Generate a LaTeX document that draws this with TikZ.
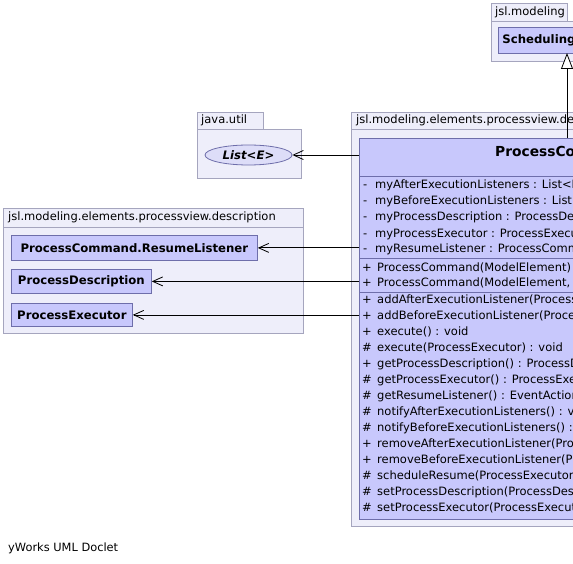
\documentclass[tikz,border=0pt]{standalone}
\usepackage{fontspec}
\setmainfont{DejaVu Sans}
\usetikzlibrary{arrows.meta,shapes.geometric}
\definecolor{pkgfill}{RGB}{238,238,250}
\definecolor{pkgdraw}{RGB}{165,165,190}
\definecolor{clsfill}{RGB}{200,200,252}
\definecolor{clsdraw}{RGB}{110,110,170}
\definecolor{ifcfill}{RGB}{221,221,248}
\tikzset{
  pkgbox/.style={draw=pkgdraw, fill=pkgfill, line width=0.8pt, inner sep=0pt, anchor=north west},
  pkglabel/.style={anchor=west, inner sep=0pt, font=\fontsize{11.5}{13}\selectfont},
  clsbox/.style={draw=clsdraw, fill=clsfill, line width=0.8pt, inner sep=0pt, anchor=north west,
    font=\bfseries\fontsize{11.7}{13}\selectfont},
  member/.style={anchor=west, inner sep=0pt, text height=8.5pt, text depth=2.5pt,
    font=\fontsize{11.5}{13}\selectfont},
  sep/.style={draw=clsdraw, line width=0.8pt},
  dep/.style={draw=black, line width=0.8pt, -{Straight Barb[length=10pt,width=9pt]}},
  gen/.style={draw=black, line width=0.8pt, -{Triangle[open,length=16pt,width=12pt,fill=white]}},
}
\begin{document}
\begin{tikzpicture}[x=1pt,y=-1pt]
\useasboundingbox (0,0) rectangle (573,564);
\clip (0,0) rectangle (573,564);

% package jsl.modeling
\node[pkgbox, minimum width=150pt, minimum height=40pt] (pkgmod) at (491,21) {};
\node[pkgbox, minimum width=76pt, minimum height=18pt] (pkgmodtab) at (491,3) {};
\node[pkglabel] (pkgmodname) at (495,12) {jsl.modeling};
\node[clsbox, minimum width=140pt, minimum height=26pt, text width=132pt, align=left] (sched) at (498,27) {Scheduling};

% package java.util
\node[pkgbox, minimum width=104pt, minimum height=49pt] (pkgutil) at (197,129) {};
\node[pkgbox, minimum width=66pt, minimum height=17pt] (pkgutiltab) at (197,112) {};
\node[pkglabel] (pkgutilname) at (201,120.5) {java.util};
\node[ellipse, draw=clsdraw, fill=ifcfill, line width=0.8pt, minimum width=87pt, minimum height=20pt,
  inner sep=0pt, font=\bfseries\itshape\fontsize{11.7}{13}\selectfont] (lst) at (248.5,155) {List<E>};

% package jsl.modeling.elements.processview.description (right)
\node[pkgbox, minimum width=300pt, minimum height=397pt] (pkgpv) at (351,129) {};
\node[pkgbox, minimum width=278pt, minimum height=17pt] (pkgpvtab) at (351,112) {};
\node[pkglabel] (pkgpvname) at (356,120.5) {jsl.modeling.elements.processview.description};

% package jsl.modeling.elements.processview.description (left)
\node[pkgbox, minimum width=300pt, minimum height=106pt] (pkgdesc) at (3,227) {};
\node[pkgbox, minimum width=300pt, minimum height=19pt] (pkgdesctab) at (3,208) {};
\node[pkglabel] (pkgdescname) at (8,217.5) {jsl.modeling.elements.processview.description};
\node[clsbox, minimum width=246pt, minimum height=25pt] (rl) at (11,235) {ProcessCommand.ResumeListener};
\node[clsbox, minimum width=140pt, minimum height=24pt] (pd) at (11,269) {ProcessDescription};
\node[clsbox, minimum width=121pt, minimum height=23pt] (pe) at (11,303) {ProcessExecutor};

% class ProcessCommand
\node[clsbox, minimum width=300pt, minimum height=381pt] (pc) at (359,138) {};
\node[anchor=west, inner sep=0pt, font=\bfseries\fontsize{13.8}{15}\selectfont] (pcname) at (495,151) {ProcessCommand};
\draw[sep] (359,176) coordinate (s1) -- ++(300,0);
\draw[sep] (359,258) coordinate (s2) -- ++(300,0);
\draw[sep] (359,292) coordinate (s3) -- ++(300,0);

\foreach \s/\t [count=\i from 0] in {
  {-}/{myAfterExecutionListeners : List<ProcessCommand.Listener>},
  {-}/{myBeforeExecutionListeners : List<ProcessCommand.Listener>},
  {-}/{myProcessDescription : ProcessDescription},
  {-}/{myProcessExecutor : ProcessExecutor},
  {-}/{myResumeListener : ProcessCommand.ResumeListener}}
{
  \node[member] (asign\i) at (363,186+16*\i) {\s};
  \node[member] (attr\i) at (375,186+16*\i) {\t};
}
\foreach \s/\t [count=\i from 0] in {
  {+}/{ProcessCommand(ModelElement)},
  {+}/{ProcessCommand(ModelElement, ProcessDescription)}}
{
  \node[member] (csign\i) at (362,268+16*\i) {\s};
  \node[member] (ctor\i) at (377,268+16*\i) {\t};
}
\foreach \s/\t [count=\i from 0] in {
  {+}/{addAfterExecutionListener(ProcessCommand.Listener) : void},
  {+}/{addBeforeExecutionListener(ProcessCommand.Listener) : void},
  {+}/{execute() : void},
  {\#}/{execute(ProcessExecutor) : void},
  {+}/{getProcessDescription() : ProcessDescription},
  {\#}/{getProcessExecutor() : ProcessExecutor},
  {\#}/{getResumeListener() : EventActionIfc},
  {\#}/{notifyAfterExecutionListeners() : void},
  {\#}/{notifyBeforeExecutionListeners() : void},
  {+}/{removeAfterExecutionListener(ProcessCommand.Listener) : void},
  {+}/{removeBeforeExecutionListener(ProcessCommand.Listener) : void},
  {\#}/{scheduleResume(ProcessExecutor) : void},
  {\#}/{setProcessDescription(ProcessDescription) : void},
  {\#}/{setProcessExecutor(ProcessExecutor) : void}}
{
  \node[member] (msign\i) at (362,300+16*\i) {\s};
  \node[member] (meth\i) at (377,300+16*\i) {\t};
}

% connectors
\coordinate (gentip) at (567,53);
\draw[gen] (gentip |- pc.north) -- (gentip);
\draw[dep] (lst -| pc.west) -- (lst.east);
\draw[dep] (rl -| pc.west) -- (rl.east);
\draw[dep] (pd -| pc.west) -- (pd.east);
\draw[dep] (pe -| pc.west) -- (pe.east);

\node[anchor=west, inner sep=0pt, font=\fontsize{11.4}{13}\selectfont] (footer) at (8,548) {yWorks UML Doclet};
\end{tikzpicture}
\end{document}
